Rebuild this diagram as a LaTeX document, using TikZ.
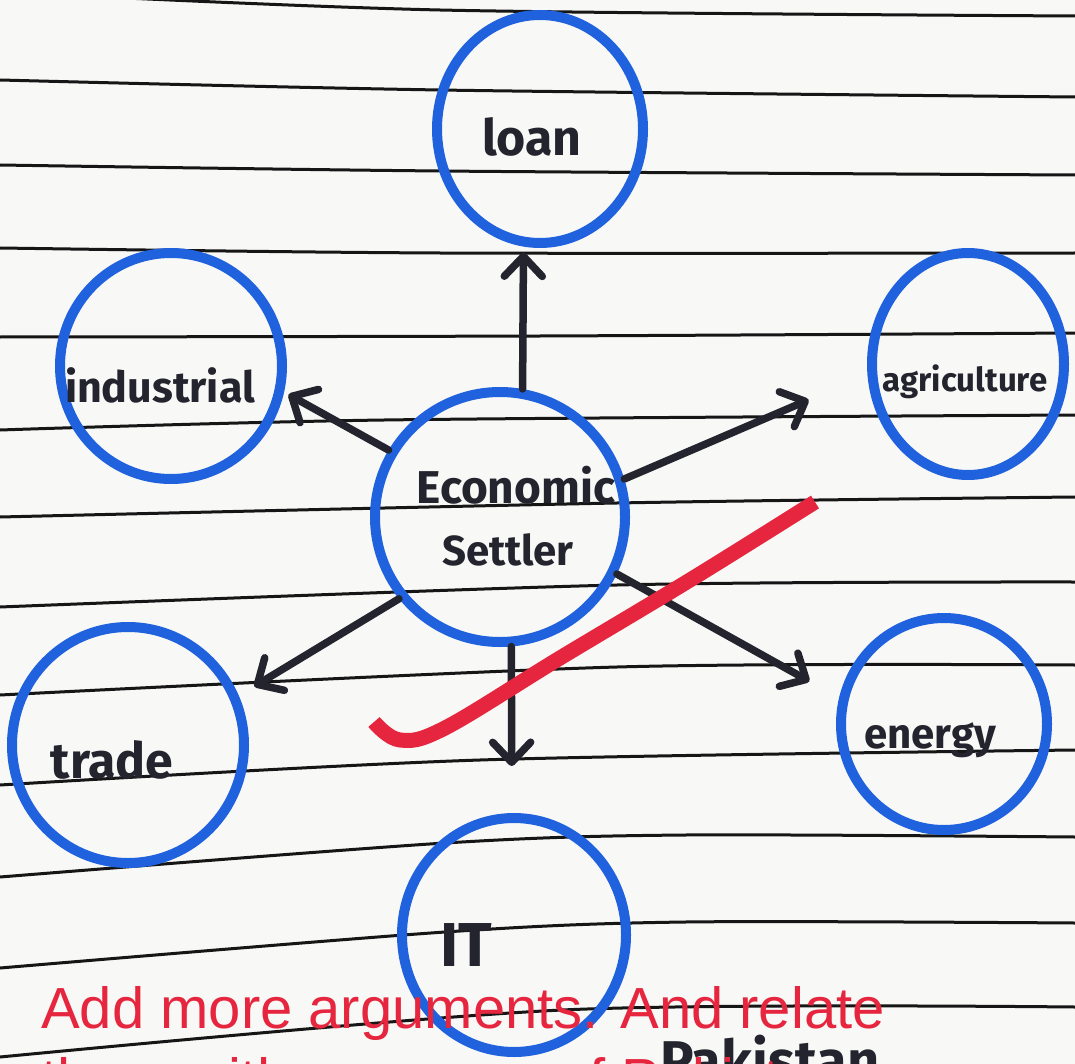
\documentclass[tikz,border=0pt]{standalone}
\usepackage{fontspec}
\setmainfont{Liberation Sans}
\newfontfamily\handf{Fira Sans}
\usetikzlibrary{shapes.geometric,arrows.meta}
\definecolor{paper}{RGB}{248,248,246}
\definecolor{rulec}{RGB}{22,22,22}
\definecolor{inkblue}{RGB}{32,98,222}
\definecolor{pen}{RGB}{36,36,46}
\definecolor{redmark}{RGB}{230,38,62}
\newcommand\handsz[1]{\handf\bfseries\fontsize{#1}{#1}\selectfont}
\begin{document}
\begin{tikzpicture}[x=1pt,y=-1pt,
  ruled/.style={draw=rulec,line width=3pt},
  bubble/.style={draw=inkblue,line width=10pt,ellipse,inner sep=0pt},
  lab/.style={text=pen,inner sep=0pt},
  arr/.style={draw=pen,line width=7.5pt,line cap=round,
    -{Straight Barb[round,length=20pt,width=38pt,line width=7.5pt]}},
  tick/.style={draw=redmark,line width=15pt},
  note/.style={text=redmark,inner sep=0pt,anchor=base west,font=\fontsize{58}{58}\selectfont}
]
\useasboundingbox (0,0) rectangle (1075,1064);
\clip (0,0) rectangle (1075,1064);
\fill[paper] (0,0) rectangle (1075,1064);

% ruled lines of the paper
\draw[ruled] plot[smooth] coordinates {(0,-8) (440,10) (1075,16)};
\draw[ruled] plot[smooth] coordinates {(0,80) (440,90) (1075,97)};
\draw[ruled] plot[smooth] coordinates {(0,165) (440,171) (1075,175)};
\draw[ruled] plot[smooth] coordinates {(0,248) (440,253) (1075,253)};
\draw[ruled] plot[smooth] coordinates {(0,337) (540,336) (1075,333)};
\draw[ruled] plot[smooth] coordinates {(0,430) (384,420) (1075,415)};
\draw[ruled] plot[smooth] coordinates {(0,517) (617,503) (1075,497)};
\draw[ruled] plot[smooth] coordinates {(0,607) (617,585) (1075,582)};
\draw[ruled] plot[smooth] coordinates {(0,695) (617,667) (1075,665)};
\draw[ruled] plot[smooth] coordinates {(0,785) (480,760) (1075,750)};
\draw[ruled] plot[smooth] coordinates {(0,877) (445,843) (685,835) (1075,837)};
\draw[ruled] plot[smooth] coordinates {(0,968) (445,932) (685,922) (1075,923)};
\draw[ruled] plot[smooth] coordinates {(0,1057) (562,1010) (1075,1007)};

% circles
\node[bubble,minimum width=206pt,minimum height=228pt] (loan) at (540,129) {};
\node[bubble,minimum width=222pt,minimum height=226pt] (ind) at (171,366) {};
\node[bubble,minimum width=192pt,minimum height=222pt] (agr) at (968,364) {};
\node[bubble,minimum width=250pt,minimum height=250pt] (eco) at (500,517) {};
\node[bubble,minimum width=232pt,minimum height=236pt] (trade) at (128,745) {};
\node[bubble,minimum width=206pt,minimum height=212pt] (ene) at (944,724) {};
\node[bubble,minimum width=224pt,minimum height=234pt] (it) at (514,935) {};

% labels
\node[lab,font=\handsz{50}] (loanl) at (532,137) {loan};
\node[lab,font=\handsz{43}] (indl) at (160,385) {industrial};
\node[lab,font=\handsz{33}] (agrl) at (965,382) {agriculture};
\node[lab,font=\handsz{46}] (ecol1) at (516,485) {Economic};
\node[lab,font=\handsz{42}] (ecol2) at (508,550) {Settler};
\node[lab,font=\handsz{50}] (tradel) at (112,760) {trade};
\node[lab,font=\handsz{42}] (enel) at (930,740) {energy};
\node[lab,font=\handsz{62}] (itl) at (466,945) {IT};

% arrows
\draw[arr,shorten >=6pt] (eco.80) -- (loan.262);
\draw[arr,shorten >=5pt] (eco.149) -- (ind.347);
\draw[arr,shorten >=64pt] (eco.17) -- (agr.186);
\draw[arr,shorten >=18pt] (eco.219) -- (trade.24);
\draw[arr,shorten >=47pt] (eco.275) -- (it.91);
\draw[arr,shorten >=34pt] (eco.334) -- (ene.166);

% red tick of the reviewer
\draw[tick] plot[smooth,tension=0.6] coordinates {(374,722) (400,740) (445,728) (560,658) (690,580) (815,502)};

% handwriting at the foot of the page
\node[lab,font=\handsz{56},anchor=base west] (pak) at (660,1080) {Pakistan};

% reviewer note
\node[note] (note1) at (41,1028) {Add more arguments. And relate};
\node[note] (note2) at (41,1099) {them with economy of Pakistan.};
\end{tikzpicture}
\end{document}
